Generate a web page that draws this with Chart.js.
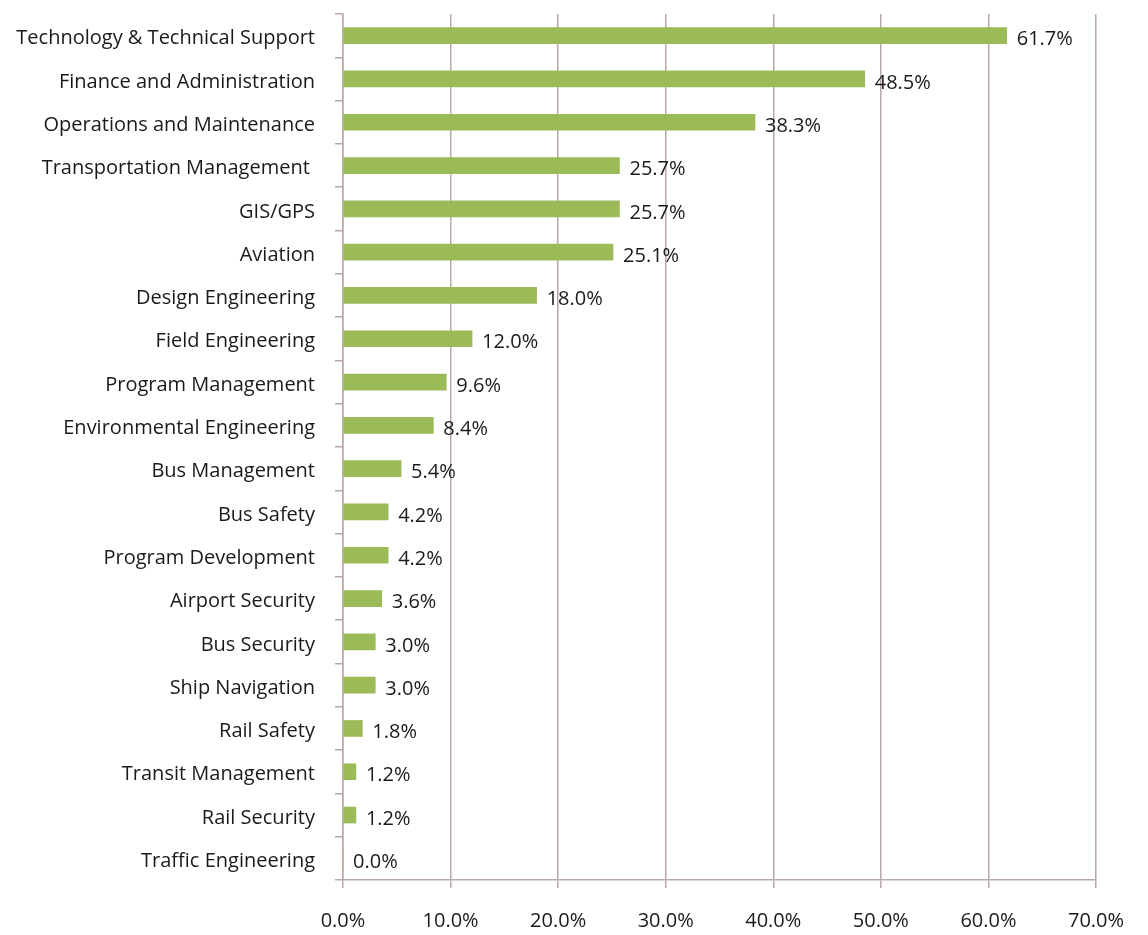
<!DOCTYPE html>
<html>
<head>
<meta charset="utf-8">
<script src="https://cdn.jsdelivr.net/npm/chart.js@4"></script>
<style>
html,body{margin:0;padding:0;background:#fff;}
#wrap{width:1148px;height:935px;position:relative;}
</style>
</head>
<body>
<div id="wrap"><canvas id="c" width="1148" height="935"></canvas></div>
<script>
const categories = [
  "Technology & Technical Support",
  "Finance and Administration",
  "Operations and Maintenance",
  "Transportation Management ",
  "GIS/GPS",
  "Aviation",
  "Design Engineering",
  "Field Engineering",
  "Program Management",
  "Environmental Engineering",
  "Bus Management",
  "Bus Safety",
  "Program Development",
  "Airport Security",
  "Bus Security",
  "Ship Navigation",
  "Rail Safety",
  "Transit Management",
  "Rail Security",
  "Traffic Engineering"
];
const values = [61.7, 48.5, 38.3, 25.7, 25.7, 25.1, 18.0, 12.0, 9.6, 8.4, 5.4, 4.2, 4.2, 3.6, 3.0, 3.0, 1.8, 1.2, 1.2, 0.0];
const xTickValues = [0, 10, 20, 30, 40, 50, 60, 70];

const FONT = "'Open Sans', sans-serif";
const GRID = "#b9a8a8";
const TEXT = "#1a1a1a";

const labelPlugin = {
  id: 'valueLabels',
  afterDatasetsDraw(chart) {
    const ctx = chart.ctx;
    const meta = chart.getDatasetMeta(0);
    ctx.save();
    ctx.font = "20px " + FONT;
    ctx.fillStyle = TEXT;
    ctx.textBaseline = 'middle';
    ctx.textAlign = 'left';
    meta.data.forEach((bar, i) => {
      const v = values[i];
      ctx.fillText(v.toFixed(1) + '%', bar.x + 10, bar.y + 4);
    });
    ctx.restore();
  }
};

new Chart(document.getElementById('c'), {
  type: 'bar',
  data: {
    labels: categories,
    datasets: [{
      data: values,
      backgroundColor: '#9bbb59',
      borderWidth: 0,
      barThickness: 16,
      categoryPercentage: 1,
      barPercentage: 0.37
    }]
  },
  options: {
    indexAxis: 'y',
    responsive: false,
    animation: false,
    devicePixelRatio: 1,
    layout: { padding: { left: 0, right: 52, top: 14, bottom: 0 } },
    plugins: { legend: { display: false }, tooltip: { enabled: false } },
    scales: {
      x: {
        min: 0, max: 70,
        afterBuildTicks(scale) { scale.ticks = xTickValues.map(v => ({ value: v })); },
        afterFit(scale) { scale.height = 55; scale.paddingLeft = 0; scale.paddingRight = 0; },
        grid: { color: GRID, lineWidth: 1.5, drawTicks: true, tickLength: 8, tickColor: GRID },
        border: { color: GRID, width: 1.5 },
        ticks: {
          color: TEXT,
          font: { family: FONT, size: 20 },
          padding: 21,
          callback: v => Number(v).toFixed(1) + '%'
        }
      },
      y: {
        afterFit(scale) { scale.width = 343; scale.paddingTop = 0; scale.paddingBottom = 0; },
        grid: { drawOnChartArea: false, offset: true, drawTicks: true, tickLength: 8, tickColor: GRID, lineWidth: 1.5 },
        border: { color: GRID, width: 1.5 },
        ticks: {
          color: TEXT,
          font: { family: FONT, size: 20 },
          padding: 20,
          labelOffset: 3,
          autoSkip: false
        }
      }
    }
  },
  plugins: [labelPlugin]
});
</script>
</body>
</html>
